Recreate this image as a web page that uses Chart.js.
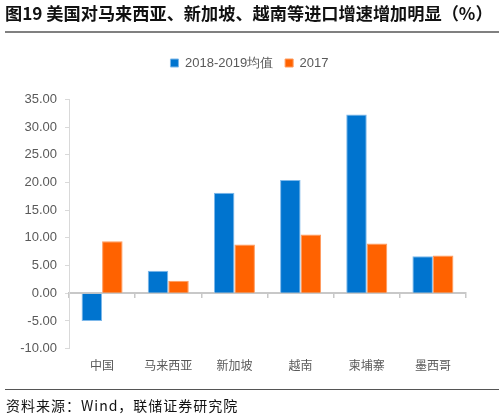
<!DOCTYPE html>
<html>
<head>
<meta charset="utf-8">
<script src="https://cdn.jsdelivr.net/npm/chart.js@4.4.1/dist/chart.umd.min.js"></script>
<style>
  html, body { margin:0; padding:0; background:#fff; }
  #wrap { position:relative; width:504px; height:417px; overflow:hidden; }
  #title { position:absolute; left:5px; top:3px; font-family:"Noto Sans CJK SC","Liberation Sans",sans-serif; font-weight:bold; font-size:17.2px; line-height:20px; color:#111; white-space:nowrap; }
  #tline { position:absolute; left:5px; top:31px; width:494px; height:0; border-top:2px solid #808080; }
  #bline { position:absolute; left:5px; top:389px; width:494px; height:0; border-top:1.5px solid #555; }
  #source { position:absolute; left:6px; top:396px; font-family:"Noto Sans CJK SC","Liberation Sans",sans-serif; font-size:14px; line-height:18px; letter-spacing:1px; color:#111; white-space:nowrap; }
  #c { position:absolute; left:0; top:0; }
</style>
</head>
<body>
<div id="wrap">
  <canvas id="c" width="504" height="417"></canvas>
  <div id="title">图19 美国对马来西亚、新加坡、越南等进口增速增加明显（%）</div>
  <div id="tline"></div>
  <div id="bline"></div>
  <div id="source">资料来源：Wind，联储证券研究院</div>
</div>
<script>
const categories = ['中国', '马来西亚', '新加坡', '越南', '柬埔寨', '墨西哥'];
const avg2018_2019 = [-5.0, 4.07, 18.14, 20.45, 32.27, 6.68];
const y2017 = [9.4, 2.25, 8.8, 10.6, 8.99, 6.8];
const seriesNames = ['2018-2019均值', '2017'];
const yTicks = { min: -10, max: 35, step: 5 };

const legendSpace = {
  id: 'legendSpace',
  afterInit(chart) {
    const lg = chart.legend;
    if (!lg) return;
    const f = lg.fit;
    lg.fit = function () { f.call(this); this.height += 20; };
  }
};

new Chart(document.getElementById('c'), {
  type: 'bar',
  data: {
    labels: categories,
    datasets: [
      { label: seriesNames[0], data: avg2018_2019, backgroundColor: '#0074CF', borderColor: '#7DB8EA', borderWidth: 1, xAxisID: 'x', yAxisID: 'y', categoryPercentage: 0.62, barPercentage: 1.0 },
      { label: seriesNames[1], data: y2017, backgroundColor: '#FF6200', borderColor: '#FF9A5C', borderWidth: 1, xAxisID: 'x', yAxisID: 'y', categoryPercentage: 0.62, barPercentage: 1.0 }
    ]
  },
  plugins: [legendSpace],
  options: {
    responsive: false,
    animation: false,
    devicePixelRatio: 1,
    layout: { padding: { top: 44.5, left: 0, right: 5, bottom: 34 } },
    plugins: {
      legend: {
        position: 'top',
        labels: { font: { family: 'Liberation Sans', size: 13 }, color: '#595959', boxWidth: 8, boxHeight: 8, padding: 12 }
      },
      tooltip: { enabled: false },
      title: { display: false }
    },
    scales: {
      x: {
        type: 'category',
        position: { y: 0 },
        offset: true,
        ticks: { display: false },
        grid: { offset: true, drawOnChartArea: false, drawTicks: true, tickLength: 4, color: '#c8c8c8', lineWidth: 1.5 },
        border: { display: true, color: '#c8c8c8', width: 2 }
      },
      x2: {
        type: 'category',
        position: 'bottom',
        labels: categories,
        offset: true,
        ticks: { padding: 10, color: '#595959', font: { family: 'Noto Sans CJK SC', size: 12 } },
        grid: { display: false, drawTicks: false },
        border: { display: false }
      },
      y: {
        type: 'linear',
        position: 'left',
        min: yTicks.min,
        max: yTicks.max,
        ticks: { stepSize: yTicks.step, padding: 8, color: '#595959', font: { family: 'Liberation Sans', size: 13 }, callback: v => Number(v).toFixed(2) },
        grid: { drawOnChartArea: false, drawTicks: true, tickLength: 4, color: '#d9d9d9' },
        border: { display: true, color: '#d9d9d9', width: 1 },
        afterFit(scale) { scale.width = 69; }
      },
      yR: {
        type: 'linear',
        position: 'right',
        display: true,
        ticks: { display: false },
        grid: { display: false, drawTicks: false },
        border: { display: false },
        afterFit(scale) { scale.width = 33; }
      }
    }
  }
});
</script>
</body>
</html>
